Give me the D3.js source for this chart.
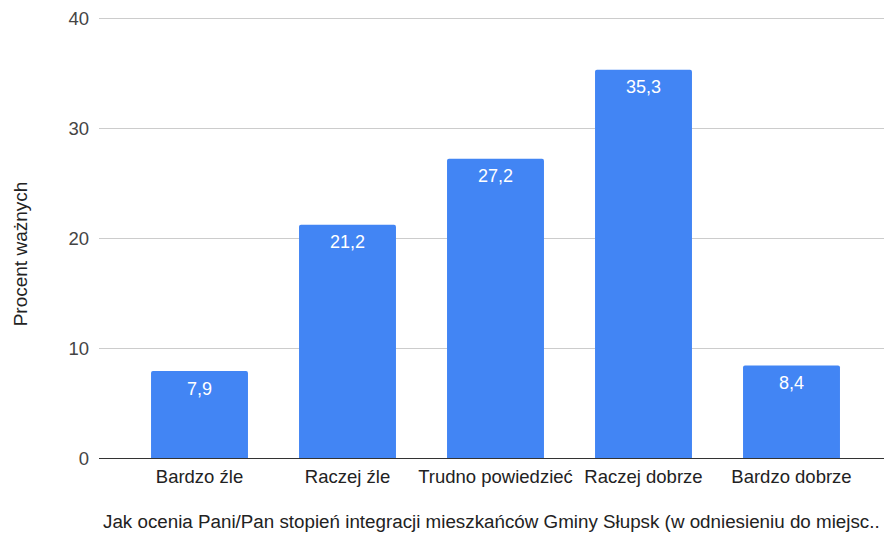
<!DOCTYPE html>
<meta charset="utf-8">
<script src="https://d3js.org/d3.v7.min.js"></script>
<style>
  body { margin: 0; background: #fff; }
  text { font-family: "Liberation Sans", Arial, sans-serif; }
</style>
<div id="chart"></div>
<script>
  // data
  const categories = ["Bardzo źle", "Raczej źle", "Trudno powiedzieć", "Raczej dobrze", "Bardzo dobrze"];
  const values = [7.9, 21.2, 27.2, 35.3, 8.4];
  const yTicks = [0, 10, 20, 30, 40];
  const yTitle = "Procent ważnych";
  const xTitle = "Jak ocenia Pani/Pan stopień integracji mieszkańców Gminy Słupsk (w odniesieniu do miejsc..";

  const width = 884, height = 533;
  const plotLeft = 99, plotRight = 884;

  const svg = d3.select("#chart").append("svg")
    .attr("width", width)
    .attr("height", height);

  const x = d3.scaleBand()
    .domain(categories)
    .range([125.5, 865.5])
    .paddingInner(0.345)
    .paddingOuter(0.1725);

  const y = d3.scaleLinear()
    .domain([0, 40])
    .range([458, 18]);

  // gridlines
  svg.append("g")
    .selectAll("line")
    .data(yTicks.filter(d => d !== 0))
    .join("line")
    .attr("x1", plotLeft).attr("x2", plotRight)
    .attr("y1", d => y(d) + 0.5).attr("y2", d => y(d) + 0.5)
    .attr("stroke", "#cccccc");

  // y tick labels
  svg.append("g")
    .selectAll("text")
    .data(yTicks)
    .join("text")
    .attr("x", 89)
    .attr("y", d => y(d))
    .attr("dy", "0.4em")
    .attr("text-anchor", "end")
    .attr("font-size", 18.5)
    .attr("fill", "#444")
    .text(d => d);

  // bars (small rounded tops)
  const r = 2;
  svg.append("g")
    .selectAll("path")
    .data(values)
    .join("path")
    .attr("fill", "#4285f4")
    .attr("d", (d, i) => {
      const x0 = x(categories[i]), w = x.bandwidth();
      const y0 = y(d), y1 = y(0);
      return `M${x0},${y1}V${y0 + r}Q${x0},${y0} ${x0 + r},${y0}H${x0 + w - r}Q${x0 + w},${y0} ${x0 + w},${y0 + r}V${y1}Z`;
    });

  // value labels
  svg.append("g")
    .selectAll("text")
    .data(values)
    .join("text")
    .attr("x", (d, i) => x(categories[i]) + x.bandwidth() / 2)
    .attr("y", d => y(d) + 23.5)
    .attr("text-anchor", "middle")
    .attr("font-size", 18)
    .attr("fill", "#ffffff")
    .text(d => String(d).replace(".", ","));

  // baseline
  svg.append("line")
    .attr("x1", plotLeft).attr("x2", plotRight)
    .attr("y1", y(0) + 0.5).attr("y2", y(0) + 0.5)
    .attr("stroke", "#333333");

  // x tick labels
  svg.append("g")
    .selectAll("text")
    .data(categories)
    .join("text")
    .attr("x", d => x(d) + x.bandwidth() / 2)
    .attr("y", 483)
    .attr("text-anchor", "middle")
    .attr("font-size", 18.5)
    .attr("fill", "#222")
    .text(d => d);

  // axis titles
  svg.append("text")
    .attr("transform", "translate(27,254) rotate(-90)")
    .attr("text-anchor", "middle")
    .attr("font-size", 19)
    .attr("fill", "#222")
    .text(yTitle);

  svg.append("text")
    .attr("x", 103)
    .attr("y", 528)
    .attr("font-size", 18.8)
    .attr("fill", "#222")
    .text(xTitle);
</script>
